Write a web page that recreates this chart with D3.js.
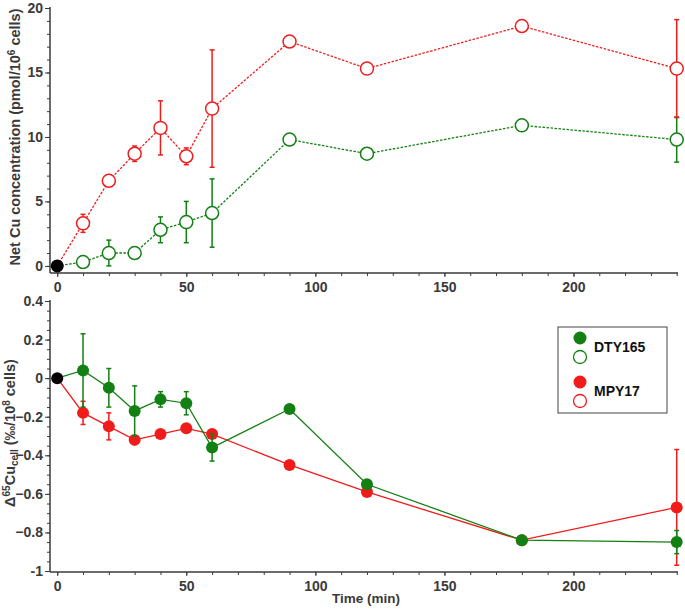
<!DOCTYPE html>
<html>
<head>
<meta charset="utf-8">
<script src="https://cdn.jsdelivr.net/npm/d3@7"></script>
<style>
  body { margin: 0; background: #fff; }
  svg text { font-family: "Liberation Sans", Arial, sans-serif; font-weight: bold; }
</style>
</head>
<body>
<svg id="chart" width="685" height="609"></svg>
<script>
// ---- data ----
const times = [0, 10, 20, 30, 40, 50, 60, 90, 120, 180, 240];

// Top panel: Net Cu concentration (pmol/10^6 cells)
const topDTY = [0, 0.3, 1.0, 1.0, 2.8, 3.4, 4.1, 9.8, 8.7, 10.9, 9.8];
const topDTYErr = [0, 0, 1.0, 0, 1.0, 1.6, 2.65, 0, 0, 0, 1.75];
const topMPY = [0, 3.3, 6.6, 8.7, 10.7, 8.5, 12.2, 17.4, 15.3, 18.6, 15.3];
const topMPYErr = [0, 0.7, 0, 0.6, 2.1, 0.65, 4.55, 0, 0, 0, 3.8];

// Bottom panel: Δ65Cu_cell (‰/10^8 cells)
const botDTY = [0, 0.04, -0.05, -0.17, -0.11, -0.13, -0.36, -0.16, -0.55, -0.84, -0.85];
const botDTYErr = [0, 0.19, 0.1, 0.13, 0.04, 0.06, 0.07, 0, 0, 0, 0.06];
const botMPY = [0, -0.18, -0.25, -0.32, -0.29, -0.26, -0.29, -0.45, -0.59, -0.84, -0.67];
const botMPYErr = [0, 0.06, 0.07, 0, 0, 0, 0, 0, 0, 0, 0.3];

const xTicks = [0, 50, 100, 150, 200];
const topYTicks = [0, 5, 10, 15, 20];
const botYTicks = [0.4, 0.2, 0, -0.2, -0.4, -0.6, -0.8, -1];
const legendNames = ["DTY165", "MPY17"];

// ---- styles ----
const GREEN = "#128012";
const RED = "#f01c1c";
const AXIS = "#3a3a3a";
const TICKFS = 14;

const svg = d3.select("#chart");

const x = d3.scaleLinear().domain([-2.8, 240.5]).range([50, 678]);
const yTop = d3.scaleLinear().domain([-0.55, 20]).range([273, 8]);
const yBot = d3.scaleLinear().domain([-1.005, 0.4]).range([572, 301]);

function drawXAxis(yPos) {
  const g = svg.append("g").attr("transform", `translate(0,${yPos})`);
  g.call(d3.axisBottom(x).tickValues(d3.range(0, 241, 10)).tickSize(3).tickFormat(""))
   .call(a => a.select(".domain").remove());
  g.append("line").attr("x1", 50).attr("x2", 678).attr("y1", 0).attr("y2", 0)
   .attr("stroke", AXIS).attr("stroke-width", 1.5);
  const maj = g.append("g").call(d3.axisBottom(x).tickValues(xTicks).tickSize(4).tickPadding(5))
   .call(a => a.select(".domain").remove());
  maj.selectAll("text").attr("font-size", TICKFS).attr("fill", AXIS)
     .attr("font-family", "Liberation Sans, Arial, sans-serif").attr("font-weight", "bold");
  g.selectAll("line").attr("stroke", AXIS);
}

function drawYAxis(y, minorStep, majors, fmt, y0, y1) {
  const g = svg.append("g").attr("transform", `translate(50,0)`);
  const d = y.domain();
  const minors = d3.range(Math.ceil(d[0] / minorStep) * minorStep, d[1] + 1e-9, minorStep);
  g.append("g").call(d3.axisLeft(y).tickValues(minors).tickSize(3).tickFormat(""))
   .call(a => a.select(".domain").remove());
  const maj = g.append("g").call(d3.axisLeft(y).tickValues(majors).tickSize(5).tickPadding(2).tickFormat(fmt))
   .call(a => a.select(".domain").remove());
  maj.selectAll("text").attr("font-size", TICKFS).attr("fill", AXIS)
     .attr("font-family", "Liberation Sans, Arial, sans-serif").attr("font-weight", "bold");
  g.append("line").attr("x1", 0).attr("x2", 0).attr("y1", y0).attr("y2", y1)
   .attr("stroke", AXIS).attr("stroke-width", 1.5);
  g.selectAll("line").attr("stroke", AXIS);
}

function drawSeries(y, vals, errs, color, dashed, open, r) {
  const pts = times.map((t, i) => ({ t, v: vals[i], e: errs[i] }));
  svg.append("path").datum(pts)
    .attr("d", d3.line().x(d => x(d.t)).y(d => y(d.v)))
    .attr("fill", "none").attr("stroke", color).attr("stroke-width", 1.3)
    .attr("stroke-dasharray", dashed ? "2.5,1.5" : null);
  const eb = svg.append("g").attr("stroke", color).attr("stroke-width", 1.5);
  pts.filter(d => d.e > 0).forEach(d => {
    const cx = x(d.t), yt = y(d.v + d.e), yb = y(d.v - d.e);
    eb.append("line").attr("x1", cx).attr("x2", cx).attr("y1", yt).attr("y2", yb);
    eb.append("line").attr("x1", cx - 2.5).attr("x2", cx + 2.5).attr("y1", yt).attr("y2", yt);
    eb.append("line").attr("x1", cx - 2.5).attr("x2", cx + 2.5).attr("y1", yb).attr("y2", yb);
  });
  svg.append("g").selectAll("circle").data(pts.filter(d => d.t > 0)).join("circle")
    .attr("cx", d => x(d.t)).attr("cy", d => y(d.v)).attr("r", r)
    .attr("fill", open ? "#fff" : color)
    .attr("stroke", color).attr("stroke-width", open ? 1.5 : 0);
}

// ---- top panel ----
drawXAxis(273);
drawYAxis(yTop, 1, topYTicks, d3.format("d"), 273, 7);
drawSeries(yTop, topDTY, topDTYErr, GREEN, true, true, 6.5);
drawSeries(yTop, topMPY, topMPYErr, RED, true, true, 6.5);
svg.append("circle").attr("cx", x(times[0])).attr("cy", yTop(topDTY[0])).attr("r", 6.5).attr("fill", "#000");

// ---- bottom panel ----
drawXAxis(572);
drawYAxis(yBot, 0.05, botYTicks, d => d === 0 ? "0" : (d === -1 ? "-1" : d3.format(".1f")(d)), 572, 300);
drawSeries(yBot, botMPY, botMPYErr, RED, false, false, 6);
drawSeries(yBot, botDTY, botDTYErr, GREEN, false, false, 6);
svg.append("circle").attr("cx", x(times[0])).attr("cy", yBot(botDTY[0])).attr("r", 6).attr("fill", "#000");

// ---- axis titles ----
const TFS = 14.5, SFS = 10;
const t1 = svg.append("text").attr("transform", "translate(20,137) rotate(-90)")
  .attr("text-anchor", "middle").attr("font-size", TFS).attr("fill", AXIS);
t1.append("tspan").text("Net Cu concentration (pmol/10");
t1.append("tspan").attr("font-size", SFS).attr("dy", -5).text("6");
t1.append("tspan").attr("dy", 5).text(" cells)");

const t2 = svg.append("text").attr("transform", "translate(15,433) rotate(-90)")
  .attr("text-anchor", "middle").attr("font-size", TFS).attr("fill", AXIS);
t2.append("tspan").text("Δ");
t2.append("tspan").attr("font-size", SFS).attr("dy", -5).text("65");
t2.append("tspan").attr("dy", 5).text("Cu");
t2.append("tspan").attr("font-size", SFS).attr("dy", 3).text("cell");
t2.append("tspan").attr("dy", -3).text(" (‰/10");
t2.append("tspan").attr("font-size", SFS).attr("dy", -5).text("8");
t2.append("tspan").attr("dy", 5).text(" cells)");

svg.append("text").attr("x", 366).attr("y", 603).attr("text-anchor", "middle")
  .attr("font-size", 13.5).attr("fill", AXIS).text("Time (min)");

// ---- legend ----
const lg = svg.append("g");
lg.append("rect").attr("x", 558).attr("y", 327).attr("width", 109).attr("height", 86)
  .attr("fill", "#fff").attr("stroke", "#444").attr("stroke-width", 1);
const legColors = [GREEN, RED];
legendNames.forEach((name, i) => {
  const y0 = 338 + i * 44;
  lg.append("circle").attr("cx", 580).attr("cy", y0).attr("r", 6.5).attr("fill", legColors[i]);
  lg.append("circle").attr("cx", 580).attr("cy", y0 + 19).attr("r", 6.5)
    .attr("fill", "#fff").attr("stroke", legColors[i]).attr("stroke-width", 1.3);
  lg.append("text").attr("x", 594).attr("y", y0 + 14).attr("font-size", 14).attr("fill", "#111").text(name);
});
</script>
</body>
</html>
